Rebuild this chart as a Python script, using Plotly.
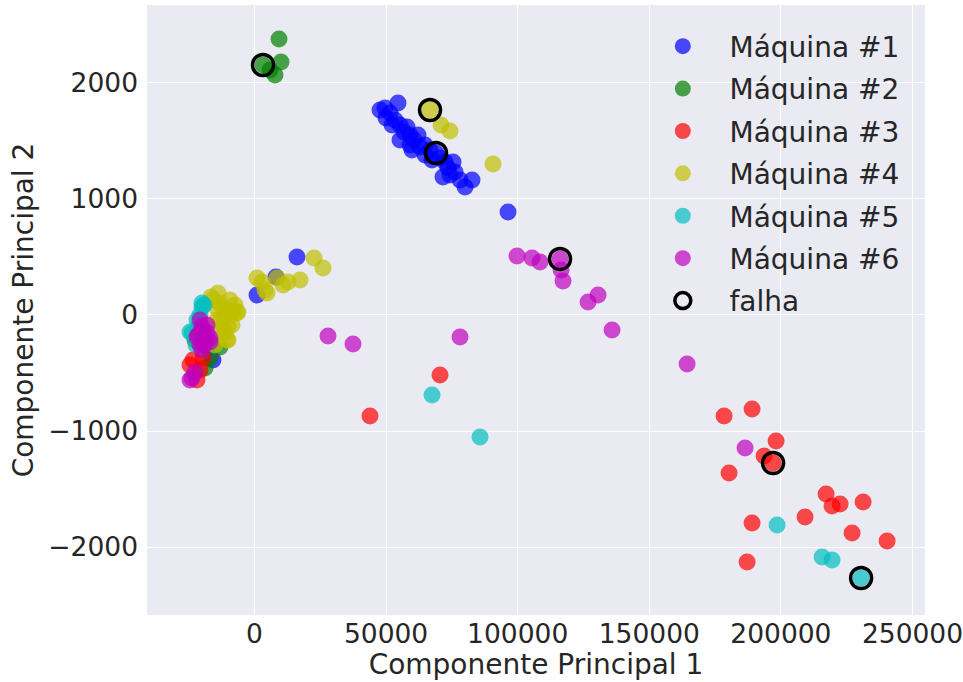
import plotly.graph_objects as go

# ---- data ----
m1_x = [47690, 54530, 51490, 49970, 53390, 55290, 57950, 56810, 55290, 59090, 60610, 62890, 64790, 66690,
        68970, 70490, 72390, 75430, 73530, 71630, 76190, 78090, 82650, 79990, 74290, 62130, 52250, 59090,
        64790, 67450, 59850, 49590, 96330, 16150, 8170, 950, -15770, -18810]
m1_y = [1767, 1827, 1741, 1698, 1681, 1638, 1621, 1577, 1509, 1552, 1509, 1448, 1465, 1422,
        1396, 1353, 1319, 1319, 1267, 1190, 1233, 1164, 1164, 1103, 1207, 1552, 1638, 1465,
        1379, 1336, 1422, 1784, 888, 500, 328, 172, -388, -259]

m2_x = [9310, 10070, 7790, 5890, 3230, -18810, -16910, -22610, -17670, -13110]
m2_y = [2379, 2181, 2069, 2112, 2155, -457, -371, -216, -216, -276]

m3_x = [-23370, -19570, -21850, -24510, -20710, 43890, 70490, 178410, 189050, 198170, 193610, 197030,
        180310, 217170, 219450, 222490, 231230, 209190, 189050, 227050, 240350, 187150]
m3_y = [-388, -371, -560, -431, -474, -871, -517, -871, -810, -1086, -1215, -1276,
        -1362, -1543, -1646, -1629, -1612, -1741, -1793, -1879, -1948, -2129]

m4_x = [66690, 70870, 74290, 90630, 22610, 26030, 950, 3990, 8550, 12730, 17290, 4750, 2850, 10830,
        -13110, -10450, -6650, -11970, -10450, -14250, -15770, -9310, -8550, -12350, -15010, -11210,
        -13870, -7410, -13870, -6270, -10070, -10070, -16530, -12000, -9000, -11000, -13000, -8000]
m4_y = [1767, 1638, 1586, 1302, 491, 405, 319, 216, 319, 284, 302, 190, 284, 259,
        103, 43, 17, -103, -216, -43, 129, 129, -86, -172, -259, 0,
        43, 86, 190, 26, -103, -216, 155, 60, 0, -150, -60, 40]

m5_x = [-19950, -21850, -23750, -20710, -19190, -22230, -21090, -19950, -24510,
        67450, 85690, 198550, 215650, 219450, 230470]
m5_y = [69, -43, -155, 0, 86, -259, -86, 103, -147,
        -690, -1052, -1810, -2086, -2112, -2267]

m6_x = [-20710, -19570, -18810, -20710, -21470, -18050, -19950, -16910, -22610, -24510, -23750,
        -16910, -21850, -19000, -20000, -18000,
        27930, 37430, 78090, 99750, 105450, 108490, 116090, 116470, 117230, 126730, 130530, 135850,
        164350, 186390]
m6_y = [-43, -129, -216, -259, -172, -86, -302, -198, -491, -560, -543,
        -233, -190, -250, -100, -150,
        -181, -250, -190, 509, 491, 457, 483, 388, 293, 112, 172, -129,
        -422, -1146]

fail_x = [3230, 66690, 68970, 116090, 197030, 230470]
fail_y = [2155, 1767, 1396, 483, -1276, -2267]

series_names = ["Máquina #1", "Máquina #2", "Máquina #3", "Máquina #4", "Máquina #5", "Máquina #6"]
series_colors = ["rgb(0,0,255)", "rgb(0,128,0)", "rgb(255,0,0)", "rgb(191,191,0)", "rgb(0,191,191)", "rgb(191,0,191)"]
series_x = [m1_x, m2_x, m3_x, m4_x, m5_x, m6_x]
series_y = [m1_y, m2_y, m3_y, m4_y, m5_y, m6_y]

x_ticks = [0, 50000, 100000, 150000, 200000, 250000]
y_ticks = [-2000, -1000, 0, 1000, 2000]

pad = "\u00a0" * 3
fig = go.Figure()
for i, (name, col, xs, ys) in enumerate(zip(series_names, series_colors, series_x, series_y)):
    fig.add_trace(go.Scatter(
        x=xs, y=ys, mode="markers", name=pad + name,
        legendgroup=f"g{i}",
        marker=dict(color=col, size=17, opacity=0.7, line=dict(width=0)),
    ))
fig.add_trace(go.Scatter(
    x=fail_x, y=fail_y, mode="markers", name=pad + "falha", legendgroup="gf",
    marker=dict(symbol="circle-open", color="black", size=21, line=dict(width=3.5, color="black")),
))

font_color = "#262626"
fig.update_layout(
    width=963, height=682,
    margin=dict(l=147, r=38, t=5, b=67),
    paper_bgcolor="white",
    plot_bgcolor="#EAEAF2",
    font=dict(family="DejaVu Sans", size=24, color=font_color),
    legend=dict(
        x=0.663, y=0.973, xanchor="left", yanchor="top",
        bgcolor="rgba(0,0,0,0)", font=dict(size=28, color=font_color),
        tracegroupgap=3, itemsizing="trace",
    ),
    xaxis=dict(
        range=[-40840, 254750], tickvals=x_ticks, ticktext=[str(v) for v in x_ticks],
        showgrid=True, gridcolor="white", gridwidth=1.3, zeroline=False, showline=False,
        ticks="", title=dict(text="Componente Principal 1", standoff=2, font=dict(size=28)),
        tickfont=dict(size=26.5), ticklabelstandoff=0, ticklabeloverflow="allow",
        automargin=False,
    ),
    yaxis=dict(
        range=[-2586, 2672], tickvals=y_ticks,
        showgrid=True, gridcolor="white", gridwidth=1.3, zeroline=False, showline=False,
        ticks="", title=dict(text="Componente Principal 2", standoff=6, font=dict(size=28)),
        tickfont=dict(size=26.5), ticklabelstandoff=8,
        automargin=False,
    ),
)

fig.write_html("out.html")
